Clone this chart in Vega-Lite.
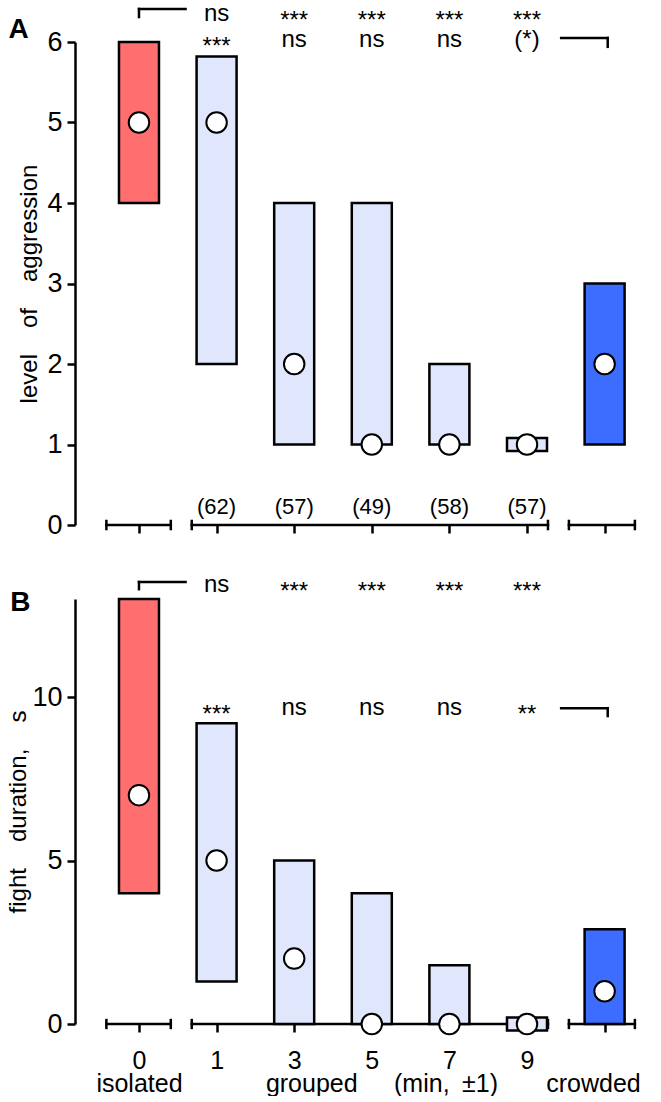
{
  "$schema": "https://vega.github.io/schema/vega-lite/v6.json",
  "padding": {"left": 6, "top": 1, "right": 0, "bottom": 0},
  "bounds": "flush",
  "spacing": 74,
  "config": {
    "font": "Liberation Sans",
    "view": {"stroke": null},
    "axis": {"domainColor": "black", "tickColor": "black", "labelColor": "black", "titleColor": "black", "domainWidth": 2.5, "tickWidth": 2.5, "grid": false, "labelFont": "Liberation Sans", "titleFont": "Liberation Sans", "titleFontWeight": "normal"},
    "text": {"font": "Liberation Sans", "color": "black"}
  },
  "datasets": {
    "aggr": [
      {"pos": 0, "grp": "isolated", "lo": 4, "hi": 6, "med": 5},
      {"pos": 1, "grp": "grouped", "lo": 2, "hi": 5.82, "med": 5},
      {"pos": 2, "grp": "grouped", "lo": 1, "hi": 4, "med": 2},
      {"pos": 3, "grp": "grouped", "lo": 1, "hi": 4, "med": 1},
      {"pos": 4, "grp": "grouped", "lo": 1, "hi": 2, "med": 1},
      {"pos": 5, "grp": "grouped", "lo": 0.92, "hi": 1.08, "med": 1},
      {"pos": 6, "grp": "crowded", "lo": 1, "hi": 3, "med": 2}
    ],
    "fight": [
      {"pos": 0, "grp": "isolated", "lo": 4, "hi": 13, "med": 7},
      {"pos": 1, "grp": "grouped", "lo": 1.3, "hi": 9.2, "med": 5},
      {"pos": 2, "grp": "grouped", "lo": 0, "hi": 5, "med": 2},
      {"pos": 3, "grp": "grouped", "lo": 0, "hi": 4, "med": 0},
      {"pos": 4, "grp": "grouped", "lo": 0, "hi": 1.8, "med": 0},
      {"pos": 5, "grp": "grouped", "lo": -0.2, "hi": 0.2, "med": 0},
      {"pos": 6, "grp": "crowded", "lo": 0, "hi": 2.9, "med": 1}
    ],
    "counts": [
      {"pos": 1, "n": "(62)"},
      {"pos": 2, "n": "(57)"},
      {"pos": 3, "n": "(49)"},
      {"pos": 4, "n": "(58)"},
      {"pos": 5, "n": "(57)"}
    ],
    "sigA": [
      {"pos": 1, "row": 1, "label": "ns"},
      {"pos": 2, "row": 1, "label": "***"},
      {"pos": 3, "row": 1, "label": "***"},
      {"pos": 4, "row": 1, "label": "***"},
      {"pos": 5, "row": 1, "label": "***"},
      {"pos": 1, "row": 2, "label": "***"},
      {"pos": 2, "row": 2, "label": "ns"},
      {"pos": 3, "row": 2, "label": "ns"},
      {"pos": 4, "row": 2, "label": "ns"},
      {"pos": 5, "row": 2, "label": "(*)"}
    ],
    "sigB": [
      {"pos": 1, "row": 1, "label": "ns"},
      {"pos": 2, "row": 1, "label": "***"},
      {"pos": 3, "row": 1, "label": "***"},
      {"pos": 4, "row": 1, "label": "***"},
      {"pos": 5, "row": 1, "label": "***"},
      {"pos": 1, "row": 2, "label": "***"},
      {"pos": 2, "row": 2, "label": "ns"},
      {"pos": 3, "row": 2, "label": "ns"},
      {"pos": 4, "row": 2, "label": "ns"},
      {"pos": 5, "row": 2, "label": "**"}
    ],
    "axA": [
      {"x": -0.42, "x2": 0.41, "y": 0, "y2": 0},
      {"x": 0.68, "x2": 5.27, "y": 0, "y2": 0},
      {"x": 5.54, "x2": 6.39, "y": 0, "y2": 0},
      {"x": -0.42, "x2": -0.42, "y": -0.05, "y2": 0.05},
      {"x": 0.41, "x2": 0.41, "y": -0.05, "y2": 0.05},
      {"x": 0.68, "x2": 0.68, "y": -0.05, "y2": 0.05},
      {"x": 5.27, "x2": 5.27, "y": -0.05, "y2": 0.05},
      {"x": 5.54, "x2": 5.54, "y": -0.05, "y2": 0.05},
      {"x": 6.39, "x2": 6.39, "y": -0.05, "y2": 0.05}
    ],
    "axB": [
      {"x": -0.42, "x2": 0.41, "y": 0, "y2": 0},
      {"x": 0.68, "x2": 5.27, "y": 0, "y2": 0},
      {"x": 5.54, "x2": 6.39, "y": 0, "y2": 0},
      {"x": -0.42, "x2": -0.42, "y": -0.12, "y2": 0.12},
      {"x": 0.41, "x2": 0.41, "y": -0.12, "y2": 0.12},
      {"x": 0.68, "x2": 0.68, "y": -0.12, "y2": 0.12},
      {"x": 5.27, "x2": 5.27, "y": -0.12, "y2": 0.12},
      {"x": 5.54, "x2": 5.54, "y": -0.12, "y2": 0.12},
      {"x": 6.39, "x2": 6.39, "y": -0.12, "y2": 0.12}
    ],
    "brA": [
      {"x": 0, "x2": 0.6, "y": 6.41, "y2": 6.41},
      {"x": 0, "x2": 0, "y": 6.41, "y2": 6.31},
      {"x": 5.44, "x2": 6.04, "y": 6.05, "y2": 6.05},
      {"x": 6.04, "x2": 6.04, "y": 6.05, "y2": 5.94}
    ],
    "brB": [
      {"x": 0, "x2": 0.6, "y": 13.52, "y2": 13.52},
      {"x": 0, "x2": 0, "y": 13.52, "y2": 13.3},
      {"x": 5.44, "x2": 6.04, "y": 9.66, "y2": 9.66},
      {"x": 6.04, "x2": 6.04, "y": 9.66, "y2": 9.42}
    ],
    "letterA": [{"t": "A"}],
    "letterB": [{"t": "B"}]
  },
  "vconcat": [
    {
      "width": 570,
      "height": 483,
      "layer": [
        {
          "data": {"name": "axA"},
          "mark": {"type": "rule", "color": "black", "strokeWidth": 2.5, "strokeCap": "square"},
          "encoding": {
            "x": {"field": "x", "type": "quantitative", "scale": {"domain": [-0.76, 6.456], "nice": false, "zero": false},
                  "axis": {"title": null, "values": [0, 1, 2, 3, 4, 5, 6], "labels": false, "domain": false, "tickSize": 8}},
            "x2": {"field": "x2"},
            "y": {"field": "y", "type": "quantitative", "scale": {"domain": [0, 6], "nice": false},
                  "axis": {"title": "level\u2003\u200aof\u2003\u200aaggression", "values": [0, 1, 2, 3, 4, 5, 6], "format": "d", "tickSize": 8, "labelFontSize": 27, "labelPadding": 5, "titleFontSize": 24, "titlePadding": 5}},
            "y2": {"field": "y2"}
          }
        },
        {
          "data": {"name": "brA"},
          "mark": {"type": "rule", "color": "black", "strokeWidth": 2.5, "strokeCap": "square"},
          "encoding": {
            "x": {"field": "x", "type": "quantitative"},
            "x2": {"field": "x2"},
            "y": {"field": "y", "type": "quantitative"},
            "y2": {"field": "y2"}
          }
        },
        {
          "data": {"name": "aggr"},
          "mark": {"type": "bar", "width": 40, "stroke": "black", "strokeWidth": 2.5},
          "encoding": {
            "x": {"field": "pos", "type": "quantitative"},
            "y": {"field": "lo", "type": "quantitative"},
            "y2": {"field": "hi"},
            "color": {"field": "grp", "type": "nominal", "scale": {"domain": ["isolated", "grouped", "crowded"], "range": ["#FF6F6F", "#E0E7FC", "#3D6DFF"]}, "legend": null}
          }
        },
        {
          "data": {"name": "aggr"},
          "mark": {"type": "point", "shape": "circle", "filled": true, "fill": "white", "stroke": "black", "strokeWidth": 2, "size": 420, "opacity": 1},
          "encoding": {
            "x": {"field": "pos", "type": "quantitative"},
            "y": {"field": "med", "type": "quantitative"}
          }
        },
        {
          "data": {"name": "counts"},
          "mark": {"type": "text", "fontSize": 22, "baseline": "middle", "align": "center"},
          "encoding": {
            "x": {"field": "pos", "type": "quantitative"},
            "y": {"datum": 0.22, "type": "quantitative"},
            "text": {"field": "n"}
          }
        },
        {
          "data": {"name": "sigA"},
          "transform": [{"filter": "datum.row == 1 && substring(datum.label, 0, 1) != '*'"}],
          "mark": {"type": "text", "fontSize": 24, "baseline": "middle", "align": "center"},
          "encoding": {
            "x": {"field": "pos", "type": "quantitative"},
            "y": {"datum": 6.35, "type": "quantitative"},
            "text": {"field": "label"}
          }
        },
        {
          "data": {"name": "sigA"},
          "transform": [{"filter": "datum.row == 1 && substring(datum.label, 0, 1) == '*'"}],
          "mark": {"type": "text", "fontSize": 24, "baseline": "middle", "align": "center", "dy": 7},
          "encoding": {
            "x": {"field": "pos", "type": "quantitative"},
            "y": {"datum": 6.35, "type": "quantitative"},
            "text": {"field": "label"}
          }
        },
        {
          "data": {"name": "sigA"},
          "transform": [{"filter": "datum.row == 2 && substring(datum.label, 0, 1) != '*'"}],
          "mark": {"type": "text", "fontSize": 24, "baseline": "middle", "align": "center"},
          "encoding": {
            "x": {"field": "pos", "type": "quantitative"},
            "y": {"datum": 6.03, "type": "quantitative"},
            "text": {"field": "label"}
          }
        },
        {
          "data": {"name": "sigA"},
          "transform": [{"filter": "datum.row == 2 && substring(datum.label, 0, 1) == '*'"}],
          "mark": {"type": "text", "fontSize": 24, "baseline": "middle", "align": "center", "dy": 7},
          "encoding": {
            "x": {"field": "pos", "type": "quantitative"},
            "y": {"datum": 6.03, "type": "quantitative"},
            "text": {"field": "label"}
          }
        },
        {
          "data": {"name": "letterA"},
          "mark": {"type": "text", "fontSize": 28, "fontWeight": "bold", "baseline": "middle", "align": "center"},
          "encoding": {
            "x": {"datum": -1.55, "type": "quantitative"},
            "y": {"datum": 6.15, "type": "quantitative"},
            "text": {"field": "t"}
          }
        }
      ]
    },
    {
      "width": 570,
      "height": 425,
      "layer": [
        {
          "data": {"name": "axB"},
          "mark": {"type": "rule", "color": "black", "strokeWidth": 2.5, "strokeCap": "square"},
          "encoding": {
            "x": {"field": "x", "type": "quantitative", "scale": {"domain": [-0.76, 6.456], "nice": false, "zero": false},
                  "axis": {"title": null, "values": [0, 1, 2, 3, 4, 5, 6, 2.22, 3.95, 5.85], "domain": false, "tickSize": 8,
                           "tickOpacity": {"condition": {"test": "datum.value != floor(datum.value)", "value": 0}, "value": 1},
                           "labelFontSize": 25, "labelPadding": 16, "labelLineHeight": 23, "labelOverlap": false, "labelFlush": false, "labelBound": false,
                           "labelExpr": "datum.value == 0 ? ['0', 'isolated'] : datum.value == 1 ? '1' : datum.value == 2 ? '3' : datum.value == 3 ? '5' : datum.value == 4 ? '7' : datum.value == 5 ? '9' : datum.value == 6 ? '' : datum.value < 2.5 ? ['', 'grouped'] : datum.value < 4.5 ? ['', '(min,\u2002±1)'] : ['', 'crowded']"}},
            "x2": {"field": "x2"},
            "y": {"field": "y", "type": "quantitative", "scale": {"domain": [0, 13], "nice": false},
                  "axis": {"title": "fight\u2003\u200aduration,\u2003\u200as", "values": [0, 5, 10], "format": "d", "tickSize": 8, "labelFontSize": 27, "labelPadding": 5, "titleFontSize": 24, "titlePadding": 1}},
            "y2": {"field": "y2"}
          }
        },
        {
          "data": {"name": "brB"},
          "mark": {"type": "rule", "color": "black", "strokeWidth": 2.5, "strokeCap": "square"},
          "encoding": {
            "x": {"field": "x", "type": "quantitative"},
            "x2": {"field": "x2"},
            "y": {"field": "y", "type": "quantitative"},
            "y2": {"field": "y2"}
          }
        },
        {
          "data": {"name": "fight"},
          "mark": {"type": "bar", "width": 40, "stroke": "black", "strokeWidth": 2.5},
          "encoding": {
            "x": {"field": "pos", "type": "quantitative"},
            "y": {"field": "lo", "type": "quantitative"},
            "y2": {"field": "hi"},
            "color": {"field": "grp", "type": "nominal", "scale": {"domain": ["isolated", "grouped", "crowded"], "range": ["#FF6F6F", "#E0E7FC", "#3D6DFF"]}, "legend": null}
          }
        },
        {
          "data": {"name": "fight"},
          "mark": {"type": "point", "shape": "circle", "filled": true, "fill": "white", "stroke": "black", "strokeWidth": 2, "size": 420, "opacity": 1},
          "encoding": {
            "x": {"field": "pos", "type": "quantitative"},
            "y": {"field": "med", "type": "quantitative"}
          }
        },
        {
          "data": {"name": "sigB"},
          "transform": [{"filter": "datum.row == 1 && substring(datum.label, 0, 1) != '*'"}],
          "mark": {"type": "text", "fontSize": 24, "baseline": "middle", "align": "center"},
          "encoding": {
            "x": {"field": "pos", "type": "quantitative"},
            "y": {"datum": 13.42, "type": "quantitative"},
            "text": {"field": "label"}
          }
        },
        {
          "data": {"name": "sigB"},
          "transform": [{"filter": "datum.row == 1 && substring(datum.label, 0, 1) == '*'"}],
          "mark": {"type": "text", "fontSize": 24, "baseline": "middle", "align": "center", "dy": 7},
          "encoding": {
            "x": {"field": "pos", "type": "quantitative"},
            "y": {"datum": 13.42, "type": "quantitative"},
            "text": {"field": "label"}
          }
        },
        {
          "data": {"name": "sigB"},
          "transform": [{"filter": "datum.row == 2 && substring(datum.label, 0, 1) != '*'"}],
          "mark": {"type": "text", "fontSize": 24, "baseline": "middle", "align": "center"},
          "encoding": {
            "x": {"field": "pos", "type": "quantitative"},
            "y": {"datum": 9.66, "type": "quantitative"},
            "text": {"field": "label"}
          }
        },
        {
          "data": {"name": "sigB"},
          "transform": [{"filter": "datum.row == 2 && substring(datum.label, 0, 1) == '*'"}],
          "mark": {"type": "text", "fontSize": 24, "baseline": "middle", "align": "center", "dy": 7},
          "encoding": {
            "x": {"field": "pos", "type": "quantitative"},
            "y": {"datum": 9.66, "type": "quantitative"},
            "text": {"field": "label"}
          }
        },
        {
          "data": {"name": "letterB"},
          "mark": {"type": "text", "fontSize": 28, "fontWeight": "bold", "baseline": "middle", "align": "center"},
          "encoding": {
            "x": {"datum": -1.53, "type": "quantitative"},
            "y": {"datum": 12.87, "type": "quantitative"},
            "text": {"field": "t"}
          }
        }
      ]
    }
  ]
}
